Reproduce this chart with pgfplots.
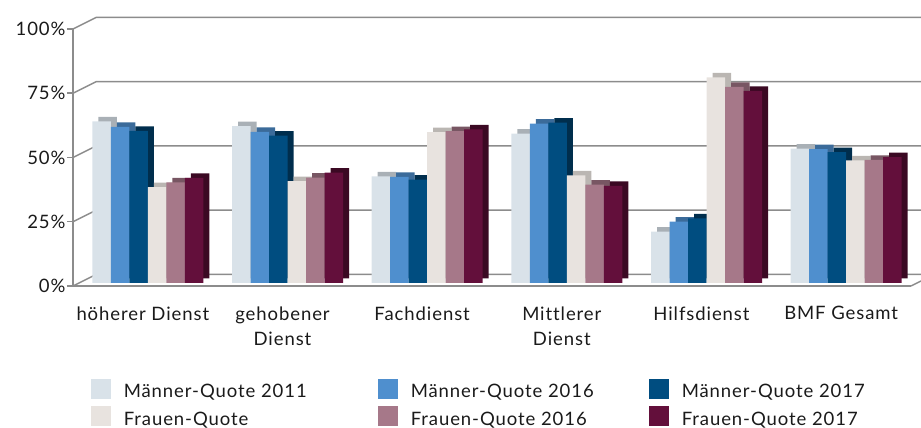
\documentclass[border=0pt]{standalone}
\usepackage{fontspec}
\setmainfont{Lato}[LetterSpace=5, Ligatures=CommonOff]
\usepackage{pgfplots}
\usepackage{pgfplotstable}
\pgfplotsset{compat=1.18}
\definecolor{mA}{HTML}{D9E2E9}
\definecolor{mB}{HTML}{4F8FCE}
\definecolor{mC}{HTML}{004D80}
\definecolor{fA}{HTML}{E8E3DF}
\definecolor{fB}{HTML}{A67889}
\definecolor{fC}{HTML}{630F3B}
\definecolor{gridc}{HTML}{8C8C8C}
\definecolor{txt}{HTML}{1A1A1A}
\pgfplotstableread{
x m11 m16 m17 f11 f16 f17
0 62.9 60.7 59.2 37.3 39.2 40.9
1 61.0 58.8 57.3 39.6 41.0 42.9
2 41.5 41.3 40.2 58.7 59.1 59.8
3 58.1 62.0 62.4 41.9 38.3 37.8
4 20.0 23.9 25.1 80.0 76.3 74.8
5 52.3 52.1 50.9 47.7 47.9 49.0
}\data
\begin{document}
\begin{tikzpicture}
\path[use as bounding box] (0,0) rectangle (921pt,428pt);
\begin{axis}[
  at={(73pt,142pt)}, anchor=south west,
  scale only axis, width=838pt, height=257pt,
  xmin=-0.5, xmax=5.5, ymin=0, ymax=100,
  axis lines*=left,
  axis line style={gridc, line width=1.5pt},
  xtick={0,...,5},
  xticklabels={höherer Dienst,{gehobener\\Dienst},Fachdienst,{Mittlerer\\Dienst},Hilfsdienst,BMF Gesamt},
  x tick style={draw=none},
  extra x ticks={-0.5,0.5,1.5,2.5,3.5,4.5},
  extra x tick labels={},
  extra x tick style={tick style={draw=gridc, line width=1.5pt}, major tick length=6pt, tick align=outside},
  ytick={0,25,50,75,100},
  yticklabel={\pgfmathprintnumber{\tick}\%},
  y tick style={gridc, line width=1.5pt},
  major tick length=6pt, tick align=outside, tick pos=left,
  /pgf/number format/assume math mode=true,
  xticklabel style={font=\fontsize{18.5}{25}\selectfont, text=txt, align=center, yshift=-11pt},
  yticklabel style={font=\fontsize{18.5}{22}\selectfont, text=txt, xshift=2pt},
  ybar=0pt, bar width=18.5pt,
  clip=false,
  legend columns=3,
  legend style={at={(0.021,-0.36)}, anchor=north west, draw=none, fill=none,
    inner sep=0pt, nodes={inner sep=0pt},
    font=\fontsize{18.5}{22}\selectfont, text=txt, row sep=7pt,
    /tikz/every odd column/.append style={column sep=13pt}},
  legend cell align=left,
  legend image code/.code={\path[#1] (0pt,-10pt) rectangle (20pt,10pt);},
]
% perspective grid (back wall)
\pgfplotsinvokeforeach{0,25,50,75,100}{
  \draw[gridc, line width=1.5pt] (axis cs:-0.5,#1) -- ++(23pt,11.5pt) -- ([xshift=10pt,yshift=11.5pt]axis cs:5.5,#1);
}
\draw[gridc, line width=1.5pt] (axis cs:5.5,0) -- ++(10pt,5pt);
% side/top faces
\addplot[forget plot, fill=mA!78!black, draw=none, bar shift=-46.25pt, xshift=11pt, yshift=7.5pt] table[x=x,y=m11]{\data};
\addplot[forget plot, fill=mB!75!black, draw=none, bar shift=-27.75pt, xshift=11pt, yshift=7.5pt] table[x=x,y=m16]{\data};
\addplot[forget plot, fill=mC!60!black, draw=none, bar shift=-9.25pt, xshift=11pt, yshift=7.5pt] table[x=x,y=m17]{\data};
\addplot[forget plot, fill=fA!80!black, draw=none, bar shift=9.25pt, xshift=11pt, yshift=7.5pt] table[x=x,y=f11]{\data};
\addplot[forget plot, fill=fB!72!black, draw=none, bar shift=27.75pt, xshift=11pt, yshift=7.5pt] table[x=x,y=f16]{\data};
\addplot[forget plot, fill=fC!60!black, draw=none, bar shift=46.25pt, xshift=11pt, yshift=7.5pt] table[x=x,y=f17]{\data};
% front faces
\addplot[fill=mA, draw=none, bar shift=-46.25pt, xshift=5pt, yshift=3pt] table[x=x,y=m11]{\data};
\addplot[fill=mB, draw=none, bar shift=-27.75pt, xshift=5pt, yshift=3pt] table[x=x,y=m16]{\data};
\addplot[fill=mC, draw=none, bar shift=-9.25pt, xshift=5pt, yshift=3pt] table[x=x,y=m17]{\data};
\addplot[fill=fA, draw=none, bar shift=9.25pt, xshift=5pt, yshift=3pt] table[x=x,y=f11]{\data};
\addplot[fill=fB, draw=none, bar shift=27.75pt, xshift=5pt, yshift=3pt] table[x=x,y=f16]{\data};
\addplot[fill=fC, draw=none, bar shift=46.25pt, xshift=5pt, yshift=3pt] table[x=x,y=f17]{\data};
\legend{\makebox[254pt][l]{Männer-Quote 2011},\makebox[238pt][l]{Männer-Quote 2016},Männer-Quote 2017,Frauen-Quote,Frauen-Quote 2016,Frauen-Quote 2017}
\end{axis}
\end{tikzpicture}
\end{document}
